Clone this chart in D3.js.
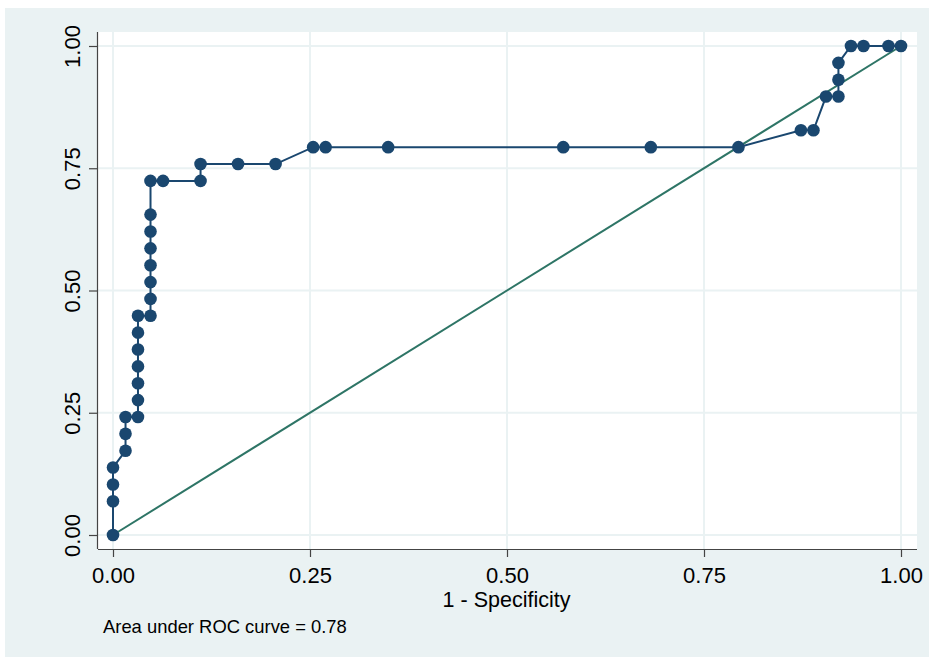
<!DOCTYPE html>
<html>
<head>
<meta charset="utf-8">
<script src="https://cdn.jsdelivr.net/npm/d3@7"></script>
<style>
  html, body { margin: 0; padding: 0; background: #ffffff; }
  svg { display: block; }
  text { font-family: "Liberation Sans", Arial, Helvetica, sans-serif; fill: #000; }
</style>
</head>
<body>
<svg id="chart" width="929" height="657"></svg>
<script>
// ROC curve points (1 - specificity, sensitivity)
const fpr = [0, 0, 0, 0, 0.0159, 0.0159, 0.0159, 0.0317, 0.0317, 0.0317, 0.0317, 0.0317, 0.0317, 0.0317,
  0.0476, 0.0476, 0.0476, 0.0476, 0.0476, 0.0476, 0.0476, 0.0476, 0.0635, 0.1111, 0.1111, 0.1587, 0.2063,
  0.2540, 0.2698, 0.3492, 0.5714, 0.6825, 0.7937, 0.8730, 0.8889, 0.9048, 0.9206, 0.9206, 0.9206,
  0.9365, 0.9524, 0.9841, 1];
const tpr = [0, 0.0690, 0.1034, 0.1379, 0.1724, 0.2069, 0.2414, 0.2414, 0.2759, 0.3103, 0.3448, 0.3793, 0.4138, 0.4483,
  0.4483, 0.4828, 0.5172, 0.5517, 0.5862, 0.6207, 0.6552, 0.7241, 0.7241, 0.7241, 0.7586, 0.7586, 0.7586,
  0.7931, 0.7931, 0.7931, 0.7931, 0.7931, 0.7931, 0.8276, 0.8276, 0.8966, 0.8966, 0.9310, 0.9655,
  1, 1, 1, 1];
const refLine = [[0, 0], [1, 1]];
const tickValues = [0, 0.25, 0.5, 0.75, 1];
const tickLabels = ["0.00", "0.25", "0.50", "0.75", "1.00"];
const xTitle = "1 - Specificity";
const footnote = "Area under ROC curve = 0.78";

const svg = d3.select("#chart");
const W = 929, H = 657;
const region = { left: 98, top: 32, right: 917, bottom: 549 };

const x = d3.scaleLinear().domain([0, 1]).range([113, 901]);
const y = d3.scaleLinear().domain([0, 1]).range([535, 46]);

// outer background
svg.append("rect").attr("x", 5).attr("y", 8).attr("width", W - 5).attr("height", H - 8).attr("fill", "#EAF2F3");
// plot region
svg.append("rect").attr("x", region.left).attr("y", region.top)
  .attr("width", region.right - region.left).attr("height", region.bottom - region.top).attr("fill", "#ffffff");

// gridlines
const grid = svg.append("g");
grid.selectAll(".gx").data(tickValues).enter().append("line")
  .attr("x1", d => x(d)).attr("x2", d => x(d)).attr("y1", region.top).attr("y2", region.bottom)
  .attr("stroke", "#EAF2F3").attr("stroke-width", 2);
grid.selectAll(".gy").data(tickValues).enter().append("line")
  .attr("y1", d => y(d)).attr("y2", d => y(d)).attr("x1", region.left).attr("x2", region.right)
  .attr("stroke", "#EAF2F3").attr("stroke-width", 2);

// axes
const xAxis = d3.axisBottom(x).tickValues(tickValues).tickFormat((d, i) => tickLabels[i]).tickSize(8).tickSizeOuter(0);
const yAxis = d3.axisLeft(y).tickValues(tickValues).tickFormat((d, i) => tickLabels[i]).tickSize(9).tickSizeOuter(0);

const gx = svg.append("g").attr("transform", `translate(0,${region.bottom})`).call(xAxis);
gx.select(".domain").remove();
gx.append("line").attr("x1", region.left).attr("x2", region.right).attr("y1", 0.5).attr("y2", 0.5)
  .attr("stroke", "#444").attr("stroke-width", 1.2);
gx.selectAll(".tick line").attr("stroke", "#444").attr("stroke-width", 1.2);
gx.selectAll(".tick text").attr("font-size", 22).attr("fill", "#000")
  .attr("y", 0).attr("dy", null).attr("transform", "translate(0,34)")
  .style("font-family", "'Liberation Sans', Arial, sans-serif");

const gy = svg.append("g").attr("transform", `translate(${region.left},0)`).call(yAxis);
gy.select(".domain").remove();
gy.append("line").attr("x1", -0.5).attr("x2", -0.5).attr("y1", region.top).attr("y2", region.bottom)
  .attr("stroke", "#444").attr("stroke-width", 1.2);
gy.selectAll(".tick line").attr("stroke", "#444").attr("stroke-width", 1.2);
gy.selectAll(".tick text").attr("font-size", 22).attr("fill", "#000")
  .attr("x", 0).attr("dy", null).attr("text-anchor", "middle")
  .attr("transform", "translate(-18,0) rotate(-90)")
  .style("font-family", "'Liberation Sans', Arial, sans-serif");

// reference diagonal
svg.append("path").datum(refLine)
  .attr("d", d3.line().x(d => x(d[0])).y(d => y(d[1])))
  .attr("fill", "none").attr("stroke", "#2E7566").attr("stroke-width", 2);

// ROC curve
const pts = fpr.map((v, i) => [v, tpr[i]]);
svg.append("path").datum(pts)
  .attr("d", d3.line().x(d => x(d[0])).y(d => y(d[1])))
  .attr("fill", "none").attr("stroke", "#1A476F").attr("stroke-width", 2);
svg.append("g").selectAll("circle").data(pts).enter().append("circle")
  .attr("cx", d => x(d[0])).attr("cy", d => y(d[1])).attr("r", 6.3)
  .attr("fill", "#1A476F");

// titles
svg.append("text").attr("x", (region.left + region.right) / 2 - 1).attr("y", 607)
  .attr("text-anchor", "middle").attr("font-size", 21.5).text(xTitle);
svg.append("text").attr("x", 103).attr("y", 633)
  .attr("font-size", 18.4).text(footnote);
</script>
</body>
</html>
